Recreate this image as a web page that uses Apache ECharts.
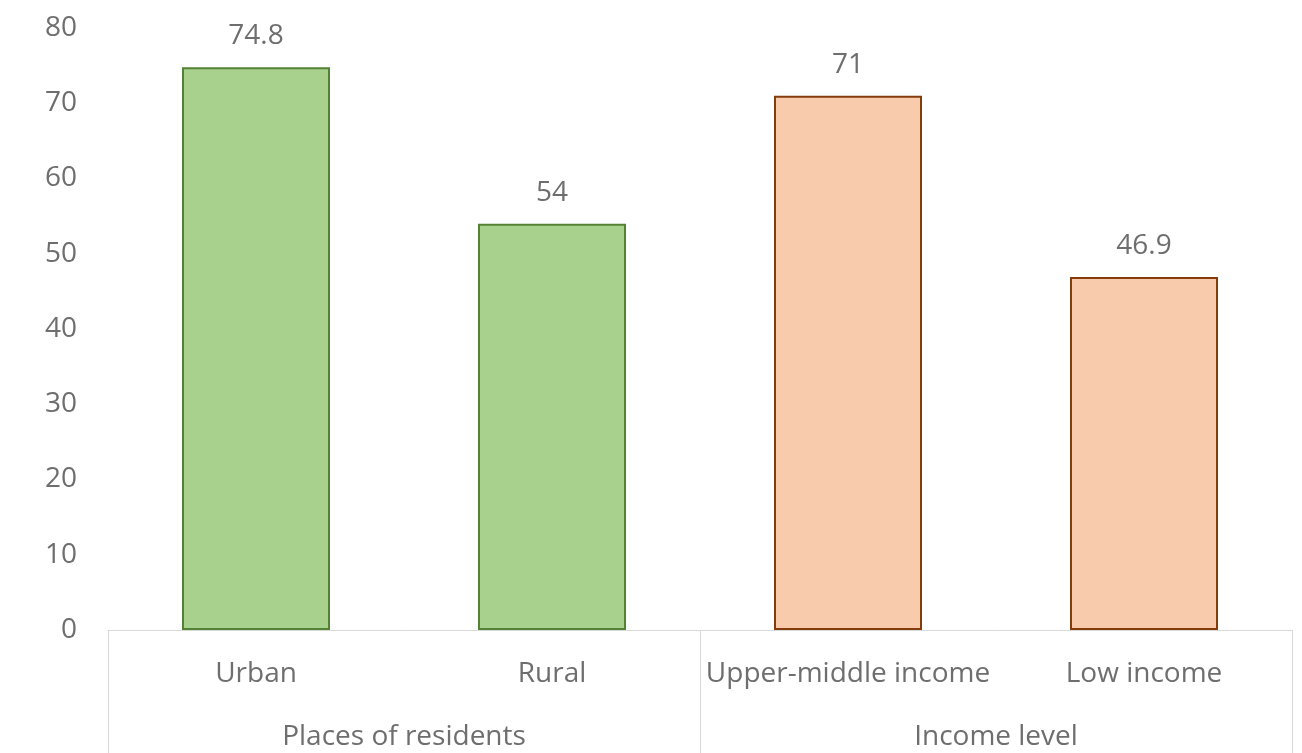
<!DOCTYPE html>
<html><head><meta charset="utf-8">
<script src="https://cdn.jsdelivr.net/npm/echarts@6/dist/echarts.min.js"></script>
<style>html,body{margin:0;padding:0;background:#fff}#c{width:1302px;height:753px}</style>
</head><body><div id="c"></div>
<script>
const categories = ['Urban', 'Rural', 'Upper-middle income', 'Low income'];
const groups = ['Places of residents', 'Income level'];
const groupOf = [0, 0, 1, 1];
const values = [74.8, 54, 71, 46.9];
const yTicks = [0, 10, 20, 30, 40, 50, 60, 70, 80];

const fills = ['#a9d18e', '#f8cbad'];
const borders = ['#548235', '#843c0c'];
const txt = '#6e6e6e';
const font = 'Open Sans';
const fs = 28;

const chart = echarts.init(document.getElementById('c'), null, {renderer: 'canvas'});
chart.setOption({
  animation: false,
  grid: {left: 108, right: 10, top: 28, bottom: 123},
  yAxis: {
    type: 'value', min: yTicks[0], max: yTicks[yTicks.length - 1], interval: 10,
    splitLine: {show: false}, axisLine: {show: false}, axisTick: {show: false},
    axisLabel: {color: txt, fontSize: fs, fontFamily: font, margin: 31}
  },
  xAxis: [{
    type: 'category', data: categories,
    axisLine: {show: true, lineStyle: {color: '#d9d9d9', width: 1}},
    axisTick: {show: false},
    axisLabel: {color: txt, fontSize: fs, fontFamily: font, margin: 30, interval: 0}
  }, {
    type: 'category', data: groups, position: 'bottom',
    axisLine: {show: false},
    axisTick: {show: true, length: 130, lineStyle: {color: '#d9d9d9', width: 1}},
    axisLabel: {color: txt, fontSize: fs, fontFamily: font, margin: 93, interval: 0}
  }],
  series: [{
    type: 'bar', xAxisIndex: 0, barWidth: '50%',
    data: values.map((v, i) => ({
      value: v,
      itemStyle: {color: fills[groupOf[i]], borderColor: borders[groupOf[i]], borderWidth: 2}
    })),
    label: {show: true, position: 'top', distance: 17, color: txt, fontSize: fs, fontFamily: font}
  }]
});
</script></body></html>
